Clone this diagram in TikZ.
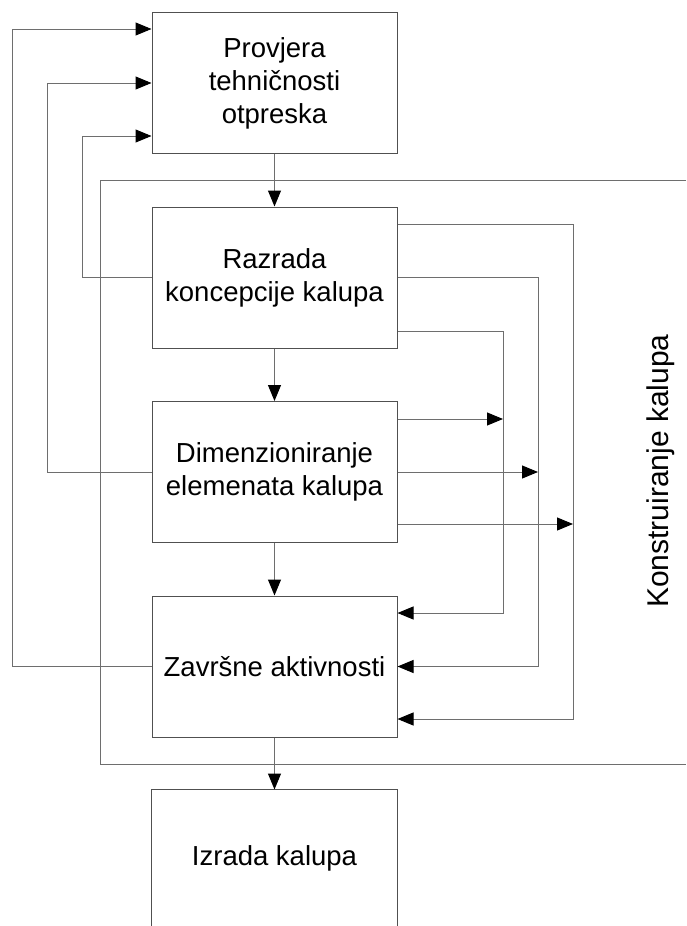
\documentclass[tikz,border=0pt]{standalone}
\usepackage{fontspec}
\setmainfont{Liberation Sans}
\usetikzlibrary{arrows.meta,calc}
\definecolor{boxc}{RGB}{80,80,80}
\definecolor{linec}{RGB}{110,110,110}
\begin{document}
\begin{tikzpicture}[x=1pt,y=-1pt,
  stepbox/.style={draw=boxc,line width=1pt,minimum width=245pt,minimum height=141pt,
    align=center,inner sep=0pt,font=\fontsize{27.5}{33}\selectfont},
  conn/.style={draw=linec,line width=1pt},
  arr/.style={conn,-{Triangle[length=16pt,width=13pt,fill=black,color=black]}}]
\useasboundingbox (0,0) rectangle (686,926);
\fill[white] (0,0) rectangle (686,926);
% frame
\draw[conn] (686,180) -- (100,180) -- (100,764) -- (686,764);
% boxes
\node[stepbox,fill=white] (b1) at (274.5,83) {Provjera\\tehničnosti\\otpreska};
\node[stepbox,fill=white] (b2) at (274.5,277.5) {Razrada\\koncepcije kalupa};
\node[stepbox,fill=white] (b3) at (274.5,472) {Dimenzioniranje\\elemenata kalupa};
\node[stepbox,fill=white] (b4) at (274.5,666.5) {Završne aktivnosti};
\node[stepbox,draw=none,minimum height=136pt] (b5) at (274.5,858) {Izrada kalupa};
\draw[draw=boxc,line width=1pt] (b5.south west) -- (b5.north west) -- (b5.north east) -- (b5.south east);
% label
\node[rotate=90,font=\fontsize{30}{34}\selectfont] (lab) at (661,471) {Konstruiranje kalupa};
% main flow
\draw[arr] (b1.south) -- (b2.north);
\draw[arr] (b2.south) -- (b3.north);
\draw[arr] (b3.south) -- (b4.north);
\draw[arr] (b4.south) -- (b5.north);
% feedback to b1
\draw[arr] (b4.west) -- (12,666.5) |- ([yshift=54pt]b1.west);
\draw[arr] (b3.west) -- (47,472) |- (b1.west);
\draw[arr] (b2.west) -- (82,277.5) |- ([yshift=-53pt]b1.west);
% b2 to b4
\draw[arr] ([yshift=53.5pt]b2.east) -- (573,224) |- ([yshift=-52.5pt]b4.east);
\draw[arr] (b2.east) -- (538,277.5) |- (b4.east);
\draw[arr] ([yshift=-53.5pt]b2.east) -- (503,331) |- ([yshift=53.5pt]b4.east);
% b3 to vertical lines
\coordinate (v1) at (503,419);
\coordinate (v2) at (538,472);
\coordinate (v3) at (573,524);
\draw[arr] ([yshift=53pt]b3.east) -- (v1);
\draw[arr] (b3.east) -- (v2);
\draw[arr] ([yshift=-52pt]b3.east) -- (v3);
\end{tikzpicture}
\end{document}
